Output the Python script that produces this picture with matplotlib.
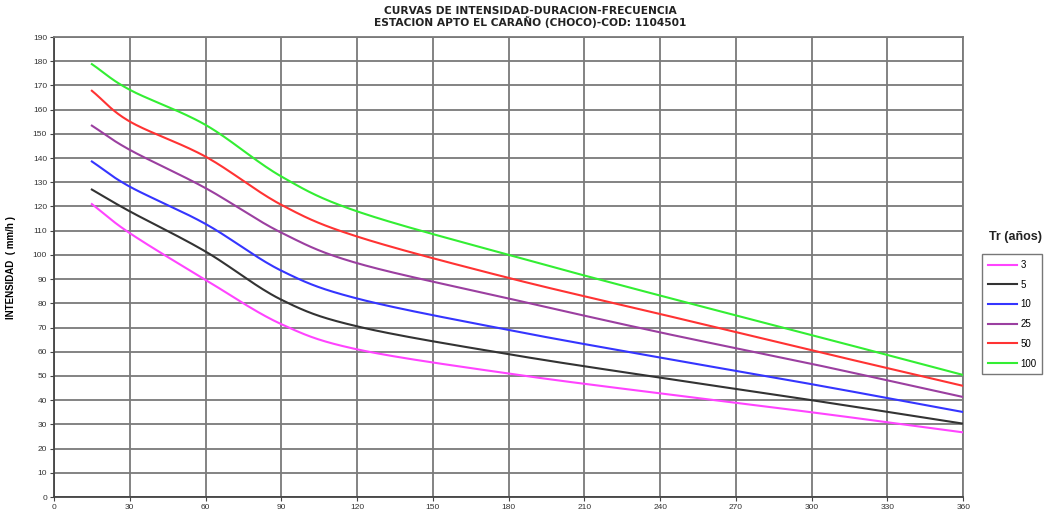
import numpy as np
import matplotlib
matplotlib.use("Agg")
import matplotlib.pyplot as plt

plt.rcParams['font.family'] = ['Liberation Sans', 'DejaVu Sans']

durations = [15, 30, 60, 90, 120, 180, 240, 300, 360]
series_names = ["3", "5", "10", "25", "50", "100"]
tr3 = [121.0, 109.0, 89.7, 71.4, 61.0, 51.0, 42.8, 35.0, 26.7]
tr5 = [127.0, 118.0, 101.4, 81.5, 70.5, 59.0, 49.3, 40.0, 30.3]
tr10 = [138.6, 128.2, 112.8, 93.5, 82.0, 69.0, 57.6, 46.6, 35.1]
tr25 = [153.4, 143.4, 127.6, 109.2, 96.6, 82.0, 68.0, 55.0, 41.3]
tr50 = [167.8, 155.1, 140.6, 120.7, 107.6, 90.5, 75.6, 60.6, 45.9]
tr100 = [178.8, 168.2, 153.7, 132.4, 118.0, 100.0, 83.2, 66.9, 50.4]
series = [tr3, tr5, tr10, tr25, tr50, tr100]
colors = ["#FF44FF", "#333333", "#3535FF", "#9B3FA0", "#FF3333", "#33EE33"]


def smooth(x, y, n=30):
    """Catmull-Rom style smoothing like spreadsheet smoothed lines."""
    x = np.asarray(x, float)
    y = np.asarray(y, float)
    px = np.concatenate([[2 * x[0] - x[1]], x, [2 * x[-1] - x[-2]]])
    py = np.concatenate([[2 * y[0] - y[1]], y, [2 * y[-1] - y[-2]]])
    xs, ys = [], []
    t = np.linspace(0, 1, n)
    for i in range(1, len(px) - 2):
        p0, p1, p2, p3 = [np.array([px[j], py[j]]) for j in range(i - 1, i + 3)]
        tension = 1 / 6
        c1 = p1 + (p2 - p0) * tension
        c2 = p2 - (p3 - p1) * tension
        b = ((1 - t) ** 3)[:, None] * p1 + (3 * (1 - t) ** 2 * t)[:, None] * c1 \
            + (3 * (1 - t) * t ** 2)[:, None] * c2 + (t ** 3)[:, None] * p2
        xs.extend(b[:, 0]); ys.extend(b[:, 1])
    return np.array(xs), np.array(ys)


fig = plt.figure(figsize=(10.5, 5.14), dpi=100)
ax = fig.add_axes([0.0514, 0.033, 0.866, 0.895])

for name, vals, c in zip(series_names, series, colors):
    sx, sy = smooth(durations, vals)
    ax.plot(sx, sy, color=c, lw=1.5, label=name, zorder=3)

ax.set_xlim(0, 360)
ax.set_ylim(0, 190)
ax.set_xticks(np.arange(0, 361, 30))
ax.set_yticks(np.arange(0, 191, 10))
ax.grid(True, color="#7a7a7a", lw=1.3, zorder=0)
ax.set_axisbelow(True)
for s in ax.spines.values():
    s.set_color("#7a7a7a")
    s.set_linewidth(1.3)
ax.spines['left'].set_color("#444444")
ax.spines['bottom'].set_color("#444444")
ax.tick_params(axis='both', labelsize=6, colors="#444444", length=3, width=0.8, pad=2)
ax.tick_params(axis='y', labelcolor="#333333")
ax.tick_params(axis='x', labelcolor="#333333")

ax.set_ylabel("INTENSIDAD  ( mm/h )", fontsize=7, fontweight='bold', labelpad=12)

fig.text(0.505, 0.978, "CURVAS DE INTENSIDAD-DURACION-FRECUENCIA", ha='center', va='center',
         fontsize=7.7, fontweight='bold', color="#222222", family='DejaVu Sans')
fig.text(0.505, 0.957, "ESTACION APTO EL CARAÑO (CHOCO)-COD: 1104501", ha='center', va='center',
         fontsize=7.7, fontweight='bold', color="#222222", family='DejaVu Sans')

leg = fig.legend(loc='upper left', bbox_to_anchor=(0.931, 0.515), frameon=True, fancybox=False,
                 fontsize=7, handlelength=3.0, labelspacing=1.0, borderpad=0.6,
                 handletextpad=0.3, edgecolor="#555555")
leg.get_frame().set_linewidth(1.0)
fig.text(0.967, 0.528, "Tr (años)", ha='center', va='bottom', fontsize=9, fontweight='bold', color="#222222")

fig.savefig("out.png", dpi=100)
